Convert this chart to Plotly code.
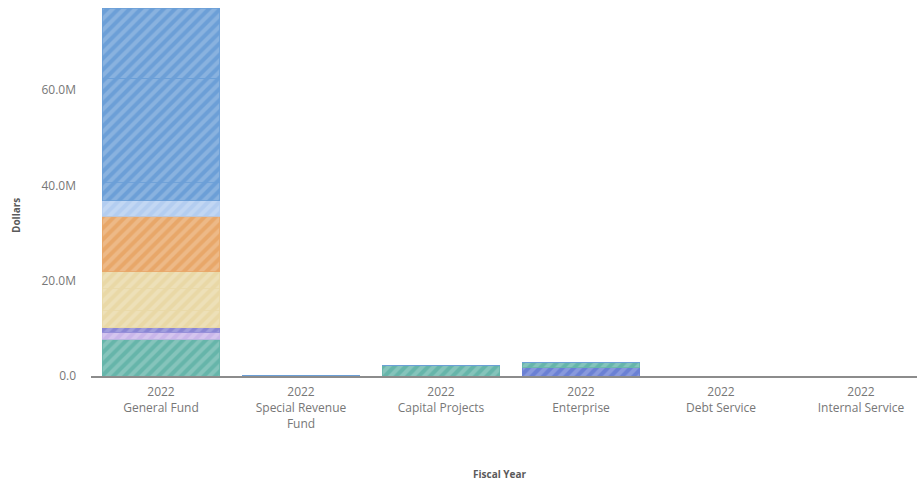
import plotly.graph_objects as go

# Fund categories along the x axis (fiscal year + fund name)
fiscal_year = "2022"
funds = ["General Fund", "Special Revenue<br>Fund", "Capital Projects",
         "Enterprise", "Debt Service", "Internal Service"]

# Expense segments, in stacking order (bottom to top), values in millions of dollars
series_names = [
    "Utilities", "Capital Outlay", "Debt & Transfers", "Contractual Services",
    "Supplies", "Repairs & Maintenance", "Professional Services",
    "Employee Benefits", "Other Operating", "Overtime", "Regular Salaries", "Public Safety Salaries",
]
series_values = [
    [0.0, 0.12, 0.0, 1.7, 0.0, 0.0],
    [7.76, 0.0, 2.1, 1.05, 0.0, 0.0],
    [1.47, 0.0, 0.0, 0.0, 0.0, 0.0],
    [0.84, 0.0, 0.0, 0.0, 0.0, 0.0],
    [3.63, 0.0, 0.0, 0.0, 0.0, 0.0],
    [4.55, 0.0, 0.0, 0.0, 0.0, 0.0],
    [3.63, 0.0, 0.0, 0.0, 0.0, 0.0],
    [11.68, 0.0, 0.0, 0.0, 0.0, 0.0],
    [3.15, 0.0, 0.0, 0.0, 0.0, 0.0],
    [3.78, 0.0, 0.0, 0.0, 0.0, 0.0],
    [22.0, 0.0, 0.0, 0.0, 0.0, 0.0],
    [14.7, 0.0, 0.0, 0.0, 0.0, 0.0],
]
series_colors = [
    "#6a80d4", "#66b5aa", "#c9b6ea", "#8a86d4", "#e9d8a6", "#e9d8a6",
    "#e9d8a6", "#e8a769", "#b3cdf0", "#6c9fd7", "#6c9fd7", "#6c9fd7",
]

y_tick_vals = [0, 20, 40, 60]
y_tick_text = ["0.0", "20.0M", "40.0M", "60.0M"]

x_positions = list(range(len(funds)))
x_labels = [f"{fiscal_year}<br>{f}" for f in funds]

fig = go.Figure()
for name, vals, color in zip(series_names, series_values, series_colors):
    fig.add_trace(go.Bar(
        x=x_positions,
        y=[v * 1e6 for v in vals],
        name=name,
        width=0.84,
        marker=dict(
            color=color,
            line=dict(color=color, width=0.8),
            pattern=dict(shape="/", fgcolor="rgba(255,255,255,0.4)",
                         size=8, solidity=0.5, fillmode="overlay"),
        ),
        showlegend=False,
    ))

total_top = sum(col[0] for col in series_values) * 1e6

fig.update_layout(
    width=917, height=482,
    barmode="stack",
    bargap=0.16,
    plot_bgcolor="white",
    paper_bgcolor="white",
    margin=dict(l=91, r=0, t=8, b=106),
    font=dict(family="Open Sans, Lato, sans-serif", color="#777777", size=12),
    xaxis=dict(
        tickmode="array",
        tickvals=x_positions,
        ticktext=x_labels,
        range=[-0.5, 5.4],
        showline=True, linecolor="#8c8c8c", linewidth=2,
        showgrid=False, zeroline=False,
        ticks="", ticklabelstandoff=4,
        tickfont=dict(size=12, color="#777777"),
    ),
    yaxis=dict(
        tickmode="array",
        tickvals=[v * 1e6 for v in y_tick_vals],
        ticktext=y_tick_text,
        range=[0, total_top],
        showgrid=False, zeroline=False, showline=False,
        ticks="", ticklabelstandoff=14,
        tickfont=dict(size=12, color="#777777"),
    ),
    annotations=[
        dict(text="<b>Dollars</b>", x=16, y=0.0, xref="paper", yref="paper",
             showarrow=False, textangle=-90, font=dict(size=10, color="#5a5a5a")),
        dict(text="<b>Fiscal Year</b>", xref="paper", yref="paper",
             x=0.5, y=0, showarrow=False, font=dict(size=10, color="#5a5a5a")),
    ],
)

# Position axis titles in pixel terms relative to the plot area
plot_h = 482 - 8 - 106
plot_w = 917 - 91
fig.layout.annotations[0].update(x=(16 - 91) / plot_w, y=(376 - 216) / plot_h,
                                 xanchor="center", yanchor="middle")
fig.layout.annotations[1].update(x=(500 - 91) / plot_w, y=(376 - 474) / plot_h,
                                 xanchor="center", yanchor="middle")

fig.write_html("out.html")
